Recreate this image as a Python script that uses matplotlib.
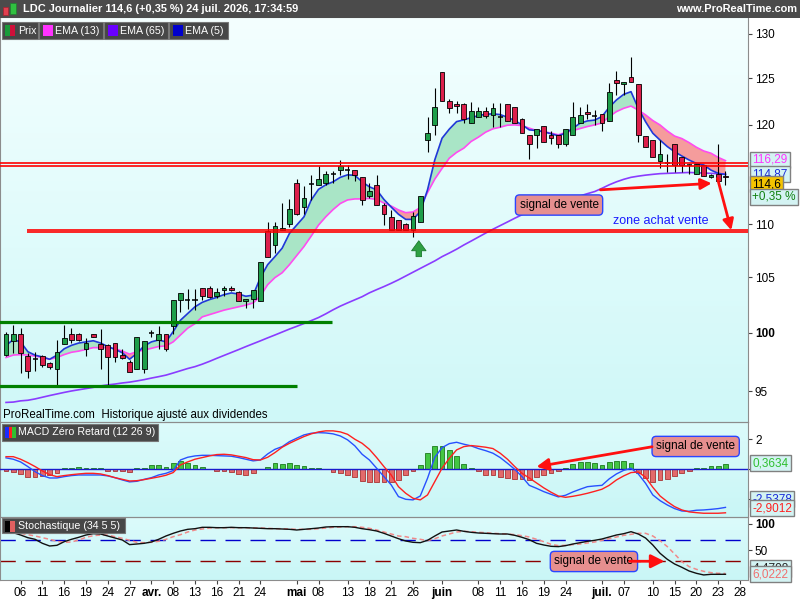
import numpy as np
import matplotlib
matplotlib.use('Agg')
import matplotlib.pyplot as plt
import matplotlib.transforms as mtransforms
from matplotlib.patches import Rectangle
from matplotlib.colors import LinearSegmentedColormap

plt.rcParams['font.family'] = ['Liberation Sans', 'DejaVu Sans']

# dati candele (indice = seduta)
opens = [98.1, 99.3, 99.9, 98.0, 97.7, 98.0, 97.4, 96.9, 99.0, 99.9,
         99.9, 98.6, 99.9, 99.0, 98.9, 99.1, 98.1, 97.5, 96.9, 96.9,
         99.9, 99.4, 99.9, 100.6, 102.9, 102.9, 102.9, 104.0, 104.0, 103.3,
         103.8, 104.0, 103.6, 102.8, 103.0, 102.8, 109.3, 108.0, 109.4, 110.0,
         114.0, 111.7, 113.85, 113.85, 114.0, 114.9, 115.3, 115.3, 115.3, 114.6,
         112.7, 113.85, 111.9, 110.7, 110.35, 110.0, 109.45, 110.2, 118.4, 120.0,
         125.7, 122.5, 122.2, 122.2, 120.2, 120.8, 121.5, 121.05, 120.8, 122.2,
         121.9, 120.6, 118.95, 118.95, 119.9, 118.95, 118.95, 118.0, 118.9, 120.2,
         121.35, 120.85, 121.1, 120.35, 124.8, 124.35, 125.1, 124.35, 118.85, 118.4,
         116.3, 116.05, 117.95, 116.7, 115.9, 114.95, 115.85, 114.6, 114.95, 114.75]
highs = [100.1, 100.7, 100.4, 98.2, 98.3, 98.1, 97.5, 99.4, 100.7, 100.4,
         100.0, 99.5, 99.9, 100.3, 99.0, 99.1, 98.6, 97.6, 99.6, 99.3,
         100.2, 100.6, 99.9, 102.9, 103.5, 103.9, 103.9, 104.0, 104.2, 104.0,
         104.2, 104.2, 103.7, 103.0, 103.8, 106.4, 110.2, 110.2, 112.0, 112.4,
         114.4, 113.7, 114.8, 115.7, 115.2, 115.2, 116.4, 115.85, 115.3, 114.6,
         114.0, 114.85, 112.0, 111.4, 110.4, 110.1, 111.2, 112.7, 120.8, 123.9,
         125.7, 122.7, 122.5, 122.3, 122.4, 121.9, 121.9, 122.3, 122.3, 122.2,
         121.9, 120.7, 118.95, 119.55, 119.9, 119.4, 118.95, 119.55, 122.4, 121.9,
         122.2, 121.6, 121.1, 124.45, 125.8, 124.55, 127.4, 124.35, 118.85, 118.4,
         118.4, 117.0, 117.95, 116.7, 115.9, 115.9, 115.85, 114.9, 117.95, 115.2]
lows = [98.0, 98.2, 96.5, 96.1, 96.7, 97.0, 96.9, 95.4, 99.0, 99.1,
        99.3, 98.0, 99.6, 96.9, 95.4, 97.5, 97.7, 96.6, 96.9, 96.5,
        99.6, 98.6, 98.4, 99.9, 101.8, 102.1, 102.0, 102.9, 103.1, 103.1,
        103.3, 103.7, 102.8, 102.2, 102.2, 102.8, 106.9, 107.2, 109.4, 109.75,
        110.9, 111.0, 112.35, 113.85, 113.85, 114.0, 114.85, 114.4, 114.2, 111.85,
        112.5, 111.9, 109.9, 109.45, 109.45, 109.45, 108.8, 110.2, 117.15, 118.95,
        122.5, 121.3, 121.3, 120.2, 120.2, 120.8, 120.7, 119.8, 119.8, 120.4,
        120.2, 119.1, 116.5, 117.6, 118.25, 118.0, 117.6, 117.8, 118.9, 120.2,
        120.6, 120.0, 119.3, 120.35, 123.2, 123.2, 124.55, 118.2, 117.7, 116.7,
        115.5, 115.1, 115.1, 115.1, 114.9, 114.95, 114.7, 114.55, 114.2, 113.85]
closes = [99.9, 99.9, 98.2, 96.7, 97.75, 97.2, 97.0, 98.3, 99.5, 99.4,
          99.4, 99.1, 99.6, 98.6, 97.9, 97.9, 97.8, 96.6, 99.6, 99.3,
          99.95, 99.9, 98.6, 102.9, 103.5, 102.95, 102.9, 103.3, 103.2, 103.6,
          104.0, 103.85, 102.8, 103.0, 103.8, 106.4, 106.9, 109.8, 109.6, 111.5,
          111.0, 112.5, 113.9, 114.4, 114.9, 114.95, 115.7, 115.35, 114.85, 112.35,
          113.2, 111.9, 110.95, 109.45, 109.45, 109.45, 110.75, 112.7, 119.1, 121.9,
          122.5, 121.75, 121.95, 120.6, 121.5, 121.5, 120.95, 121.75, 120.85, 120.4,
          120.2, 119.1, 118.0, 119.55, 118.25, 118.6, 118.0, 119.55, 120.8, 121.05,
          121.1, 120.9, 120.2, 123.55, 124.5, 124.55, 124.55, 118.95, 117.7, 116.7,
          116.95, 116.0, 115.85, 115.85, 115.8, 115.9, 114.7, 114.86, 114.2, 114.6]

# medie mobili
ema5 = [98.9, 99.4, 99.2, 98.35, 98.05, 97.9, 97.7, 98.05, 98.6, 98.9,
        99.1, 99.2, 99.3, 99.1, 98.8, 98.55, 98.26, 97.7, 98.2, 98.85,
        99.2, 99.37, 99.2, 100.1, 101.1, 101.7, 102.3, 102.7, 102.95, 103.15,
        103.4, 103.55, 103.45, 103.25, 103.35, 104.95, 106.15, 106.9, 107.7, 109.1,
        109.9, 110.7, 112.35, 113.4, 113.85, 114.15, 114.6, 114.85, 114.8, 114.15,
        113.65, 113.35, 112.4, 111.65, 110.95, 110.45, 110.45, 111.2, 113.35, 116.37,
        118.6, 119.55, 120.34, 120.52, 120.76, 120.97, 121.12, 121.16, 121.08, 120.8,
        120.45, 120.0, 119.47, 119.4, 119.27, 119.06, 118.85, 119.13, 119.65, 120.17,
        120.41, 120.5, 120.87, 121.86, 122.65, 123.25, 123.54, 121.75, 120.33, 119.12,
        118.4, 117.73, 117.2, 116.76, 116.35, 116.0, 115.85, 115.33, 115.0, 114.87]
ema13 = [97.85, 98.06, 98.1, 98.06, 97.97, 97.85, 97.7, 97.85, 98.1, 98.3,
         98.4, 98.55, 98.7, 98.7, 98.7, 98.6, 98.4, 98.14, 98.35, 98.5,
         98.64, 98.8, 98.85, 99.2, 99.8, 100.4, 100.8, 101.4, 101.6, 101.8,
         102.0, 102.15, 102.3, 102.45, 102.65, 103.25, 104.3, 104.95, 105.4, 106.15,
         107.0, 107.85, 108.85, 109.9, 110.7, 111.4, 112.0, 112.35, 112.45, 112.45,
         112.5, 112.4, 112.05, 111.75, 111.37, 111.1, 111.17, 111.6, 113.08, 114.42,
         115.5, 116.54, 117.13, 117.57, 118.26, 118.71, 119.23, 119.58, 119.75, 119.96,
         119.99, 119.92, 119.65, 119.4, 119.27, 119.13, 118.95, 119.2, 119.4, 119.61,
         119.82, 119.99, 120.2, 120.87, 121.4, 121.75, 121.99, 121.56, 121.05, 120.45,
         119.98, 119.35, 118.82, 118.56, 118.14, 117.66, 117.28, 117.05, 116.62, 116.29]
ema65 = [94.07, 94.1, 94.2, 94.25, 94.36, 94.5, 94.64, 94.77, 94.9, 95.02,
         95.12, 95.22, 95.32, 95.44, 95.53, 95.6, 95.69, 95.76, 95.86, 95.97,
         96.1, 96.22, 96.35, 96.53, 96.72, 96.91, 97.07, 97.28, 97.52, 97.78,
         98.03, 98.28, 98.53, 98.79, 99.04, 99.29, 99.55, 99.8, 100.06, 100.32,
         100.56, 100.81, 101.07, 101.34, 101.67, 102.03, 102.36, 102.65, 102.93, 103.21,
         103.56, 103.85, 104.13, 104.43, 104.75, 105.1, 105.45, 105.8, 106.15, 106.5,
         106.9, 107.24, 107.6, 108.0, 108.37, 108.75, 109.13, 109.5, 109.85, 110.2,
         110.56, 110.9, 111.24, 111.46, 111.66, 111.88, 112.1, 112.32, 112.53, 112.75,
         112.97, 113.18, 113.5, 113.85, 114.15, 114.4, 114.6, 114.72, 114.82, 114.9,
         114.97, 115.0, 115.03, 115.06, 115.09, 115.06, 115.03, 115.0, 114.97, 114.94]

# MACD zero retard
macd = [0.76, 0.67, 0.49, 0.18, -0.16, -0.42, -0.58, -0.58, -0.49, -0.42,
        -0.38, -0.38, -0.38, -0.38, -0.44, -0.56, -0.71, -0.84, -0.8, -0.67,
        -0.56, -0.38, -0.27, -0.09, 0.62, 0.8, 0.89, 0.93, 0.93, 0.91,
        0.89, 0.87, 0.78, 0.67, 0.56, 0.62, 1.02, 1.33, 1.51, 1.84,
        2.07, 2.29, 2.4, 2.44, 2.42, 2.36, 2.22, 1.96, 1.56, 1.0,
        0.62, 0.07, -0.49, -1.04, -1.82, -2.0, -2.04, -1.78, -0.6, 0.8,
        1.44, 1.71, 1.8, 1.67, 1.56, 1.38, 1.24, 1.07, 0.78, 0.4,
        0.0, -0.49, -1.07, -1.27, -1.49, -1.67, -1.84, -1.73, -1.51, -1.33,
        -1.16, -1.11, -1.07, -0.64, -0.31, -0.07, 0.07, -0.31, -0.93, -1.71,
        -2.09, -2.38, -2.62, -2.78, -2.8, -2.73, -2.71, -2.67, -2.62, -2.54]
segnale = [0.84, 0.84, 0.67, 0.44, 0.18, -0.11, -0.36, -0.49, -0.42, -0.36,
           -0.31, -0.27, -0.27, -0.31, -0.42, -0.56, -0.67, -0.78, -0.76, -0.69,
           -0.6, -0.51, -0.4, -0.22, 0.29, 0.49, 0.67, 0.78, 0.89, 0.98,
           1.0, 0.96, 0.87, 0.78, 0.64, 0.62, 0.8, 1.11, 1.47, 1.73,
           1.96, 2.18, 2.36, 2.49, 2.56, 2.56, 2.49, 2.33, 2.0, 1.73,
           1.33, 0.78, 0.18, -0.38, -1.16, -1.6, -1.93, -2.04, -1.71, -0.82,
           0.07, 0.73, 1.29, 1.51, 1.58, 1.53, 1.47, 1.38, 1.07, 0.67,
           0.18, -0.27, -0.58, -0.91, -1.24, -1.53, -1.78, -1.87, -1.8, -1.71,
           -1.6, -1.47, -1.33, -1.07, -0.71, -0.44, -0.22, -0.18, -0.53, -1.2,
           -1.78, -2.16, -2.49, -2.71, -2.84, -2.89, -2.93, -2.93, -2.93, -2.9]
istogramma = [-0.11, -0.16, -0.31, -0.53, -0.49, -0.42, -0.38, -0.22, 0.11, 0.11,
              0.18, 0.11, 0.11, 0.07, -0.09, -0.11, -0.11, -0.2, 0.07, 0.11,
              0.27, 0.27, 0.16, 0.4, 0.56, 0.4, 0.27, 0.16, 0.0, -0.11,
              -0.11, -0.18, -0.33, -0.4, -0.27, 0.0, 0.16, 0.4, 0.33, 0.4,
              0.27, 0.22, 0.11, 0.07, 0.0, -0.2, -0.27, -0.38, -0.53, -0.78,
              -0.82, -0.87, -0.87, -0.87, -0.71, -0.38, -0.11, 0.29, 1.07, 1.56,
              1.56, 1.29, 0.89, 0.33, 0.07, -0.11, -0.38, -0.38, -0.49, -0.6,
              -0.67, -0.67, -0.71, -0.49, -0.38, -0.22, -0.11, 0.07, 0.36, 0.47,
              0.47, 0.4, 0.29, 0.47, 0.58, 0.56, 0.4, -0.22, -0.6, -0.82,
              -0.71, -0.67, -0.44, -0.27, -0.11, 0.11, 0.11, 0.24, 0.24, 0.36]

# stocastico
stoch_k = [85.4, 83.5, 79.1, 74.0, 70.9, 63.3, 58.2, 59.5, 66.4, 70.9,
           74.7, 79.1, 81.6, 81.0, 77.2, 73.4, 69.6, 60.8, 62.0, 63.3,
           65.8, 70.9, 77.2, 82.3, 86.7, 89.9, 91.1, 93.7, 93.7, 93.0,
           93.0, 93.7, 93.0, 93.0, 92.4, 91.8, 91.1, 91.1, 90.5, 89.9,
           88.6, 89.9, 91.1, 92.4, 94.3, 94.9, 94.9, 94.9, 93.7, 91.1,
           89.2, 86.7, 82.3, 77.2, 72.1, 67.7, 65.2, 64.5, 69.0, 77.2,
           84.8, 86.7, 88.6, 86.1, 84.2, 82.9, 82.3, 81.6, 81.0, 81.0,
           78.5, 74.7, 70.2, 63.3, 60.1, 57.6, 57.0, 58.9, 62.0, 64.5,
           67.1, 69.0, 71.5, 75.3, 79.1, 81.6, 85.4, 81.0, 73.4, 60.1,
           44.3, 32.9, 24.0, 17.7, 10.7, 6.3, 3.2, 4.4, 4.4, 4.47]
stoch_d = [87.3, 85.4, 82.3, 79.7, 77.2, 74.0, 70.9, 67.1, 65.2, 65.8,
           69.6, 74.7, 77.8, 79.1, 79.1, 75.9, 72.8, 69.0, 65.2, 64.5,
           65.2, 67.1, 70.9, 75.9, 79.7, 84.8, 88.6, 90.5, 92.4, 93.0,
           93.0, 93.0, 93.0, 93.0, 92.4, 92.4, 91.8, 91.1, 91.1, 90.5,
           89.9, 89.9, 89.9, 91.1, 92.4, 93.7, 94.3, 94.9, 94.9, 93.7,
           91.8, 88.6, 84.8, 81.0, 77.2, 75.9, 72.8, 70.9, 68.3, 72.1,
           77.2, 81.0, 84.8, 86.1, 85.4, 84.2, 83.5, 82.3, 81.6, 81.0,
           79.7, 77.8, 75.3, 70.9, 66.4, 61.4, 58.9, 59.5, 60.8, 62.0,
           63.9, 65.8, 69.0, 72.1, 75.3, 78.5, 80.4, 82.3, 82.3, 77.2,
           68.3, 57.0, 43.0, 28.5, 19.0, 13.9, 10.1, 7.6, 6.3, 6.02]

# etichette asse x
tick_pos = [2, 5, 8, 11, 14, 17, 20, 23, 26, 29, 32, 35, 40, 43, 47, 50, 53, 56,
            60, 65, 68, 71, 74, 77, 82, 85, 89, 92, 95, 98, 101]
tick_lab = ['06', '11', '16', '19', '24', '27', 'avr.', '08', '13', '16', '21', '24',
            'mai', '08', '13', '18', '21', '26', 'juin', '08', '11', '16', '19', '24',
            'juil.', '07', '10', '15', '20', '23', '28']
mesi = ['avr.', 'mai', 'juin', 'juil.']

x = np.arange(len(closes))
e5 = np.array(ema5)
e13 = np.array(ema13)

verde = '#1e9e4a'
rosso = '#dc1f4b'
W, H = 800, 600
fs_leg = 7.7


def fig_rect(px, py, w, h, **kw):
    # rettangolo in coordinate pixel della figura
    fig.patches.append(Rectangle((px / W, 1 - (py + h) / H), w / W, h / H,
                                 transform=fig.transFigure, **kw))


def sfondo(rect, c1, c2):
    b = fig.add_axes(rect, zorder=0)
    grad = np.linspace(0, 1, 256).reshape(-1, 1)
    b.imshow(grad, aspect='auto', cmap=LinearSegmentedColormap.from_list('g', [c1, c2]),
             extent=[0, 1, 0, 1])
    b.axis('off')


def etichetta(ax, y, txt, fc, tc):
    tr = mtransforms.blended_transform_factory(ax.transAxes, ax.transData)
    ax.text(1.006, y, txt, transform=tr, fontsize=8.5, color=tc, va='center', ha='left',
            bbox=dict(boxstyle='square,pad=0.18', fc=fc, ec='#808080', lw=1),
            clip_on=False, zorder=10)


def box_segnale(ax, xx, yy):
    ax.text(xx, yy, 'signal de vente', fontsize=8.5, color='black', ha='center', va='center',
            bbox=dict(boxstyle='round,pad=0.35', fc='#e68f8f', ec='#2a45ff', lw=1), zorder=9)


def freccia(ax, da, a, ms=16):
    ax.annotate('', xy=a, xytext=da, zorder=9,
                arrowprops=dict(arrowstyle='-|>', color='#ff1010', lw=2, mutation_scale=ms,
                                shrinkA=0, shrinkB=0))


fig = plt.figure(figsize=(8, 6), dpi=100)
fig.patch.set_facecolor('white')

r_main = [0, 1 - 422 / H, 748 / W, 405 / H]
r_macd = [0, 1 - 517 / H, 748 / W, 95 / H]
r_sto = [0, 1 - 580 / H, 748 / W, 63 / H]
sfondo(r_main, '#f4ffff', '#cff8f8')
sfondo(r_macd, '#dcfbfb', '#c9f6f6')
sfondo(r_sto, '#dcfbfb', '#c9f6f6')

ax = fig.add_axes(r_main, zorder=1)
ax_m = fig.add_axes(r_macd, zorder=1, sharex=ax)
ax_s = fig.add_axes(r_sto, zorder=1, sharex=ax)
for a in (ax, ax_m, ax_s):
    a.set_facecolor('none')
    for s in a.spines.values():
        s.set_color('#8c8c8c')
    a.yaxis.tick_right()
    a.tick_params(axis='y', labelsize=8.5, colors='#444444', length=3, pad=2)
    a.tick_params(axis='y', labelcolor='black')

# grafico prezzi
ax.set_yscale('log')
ax.fill_between(x, e5, e13, where=e5 >= e13, interpolate=True, color='#a9e5c6', lw=0, zorder=1)
ax.fill_between(x, e5, e13, where=e5 < e13, interpolate=True, color='#f59c9c', lw=0, zorder=1)
ax.plot(x, ema65, color='#8a3cff', lw=1.2, zorder=2)
ax.plot(x, ema13, color='#ff4cf0', lw=1.2, zorder=2)
ax.plot(x, ema5, color='#2038d8', lw=1.2, zorder=2)

for i in x:
    o, h, l, c = opens[i], highs[i], lows[i], closes[i]
    ax.vlines(i, l, h, color='black', lw=0.8, zorder=3)
    if abs(c - o) < 0.12:
        ax.hlines(c, i - 0.35, i + 0.35, color='black', lw=1.1, zorder=4)
    else:
        col = verde if c > o else rosso
        ax.bar(i, abs(c - o), bottom=min(o, c), width=0.66, color=col,
               edgecolor='black', lw=0.6, zorder=4)

# linee orizzontali
ax.axhline(116.08, color='red', lw=1.2, zorder=5)
ax.axhline(115.75, color='red', lw=1.2, zorder=5)
ax.hlines([109.43, 109.24], 2.9, 103, color='red', lw=1.2, zorder=5)
ax.hlines(100.94, -1, 44.8, color='#008000', lw=2.3, zorder=5)
ax.hlines(95.43, -1, 40.0, color='#008000', lw=2.3, zorder=5)

# annotazioni
box_segnale(ax, 76.1, 111.85)
freccia(ax, (81.8, 113.35), (97.1, 114.0))
freccia(ax, (97.9, 114.5), (99.8, 109.4))
ax.text(83.5, 110.3, 'zone achat vente', color='#1a1aff', fontsize=9, va='center', ha='left')
ax.annotate('', xy=(56.8, 108.4), xytext=(56.8, 106.9), zorder=9,
            arrowprops=dict(arrowstyle='simple,head_width=1.3,head_length=0.9,tail_width=0.5',
                            fc='#2ea043', ec='#1b7a2e', lw=0.6, mutation_scale=8,
                            shrinkA=0, shrinkB=0))
ax.text(0.004, 0.018, 'ProRealTime.com  Historique ajusté aux dividendes', transform=ax.transAxes,
        fontsize=8.3, va='center', ha='left')

ax.set_xlim(-0.83, 102.1)
ax.set_ylim(92.47, 131.9)
ax.set_yticks([95, 100, 105, 110, 120, 125, 130])
ax.set_yticklabels(['95', '100', '105', '110', '120', '125', '130'])
ax.minorticks_off()
ax.yaxis.set_minor_locator(matplotlib.ticker.NullLocator())
for t in ax.get_yticklabels():
    if t.get_text() == '100':
        t.set_fontweight('bold')
ax.tick_params(axis='x', bottom=False, labelbottom=False)

etichetta(ax, 116.36, '116,29', '#d4f3f3', '#ff33ff')
etichetta(ax, 114.92, '114,87', '#d4f3f3', '#1a2ad8')
etichetta(ax, 113.9, '114,6', '#f5c400', 'black')
etichetta(ax, 112.65, '+0,35 %', '#d4f3f3', '#108010')

# MACD
col_h = ['#43c643' if v >= 0 else '#e36a6a' for v in istogramma]
bord_h = ['#1d7a1d' if v >= 0 else '#a83434' for v in istogramma]
ax_m.bar(x, istogramma, width=0.66, color=col_h, edgecolor=bord_h, lw=0.6, zorder=2)
ax_m.axhline(0, color='#1a1acc', lw=1.0, zorder=3)
ax_m.plot(x, macd, color='#2850ff', lw=1.0, zorder=4)
ax_m.plot(x, segnale, color='#ff2020', lw=1.0, zorder=4)
ax_m.set_ylim(-3.18, 3.15)
# le etichette 0 e -2 restano coperte dai riquadri dei valori
ax_m.set_yticks([-2, 0, 2])
ax_m.set_yticklabels(['', '', '2'])
ax_m.tick_params(axis='x', bottom=False, labelbottom=False)
box_segnale(ax_m, 94.9, 1.52)
freccia(ax_m, (88.9, 1.5), (73.0, 0.17), ms=18)
etichetta(ax_m, 0.4, '0,3634', '#d4f3f3', '#30c030')
etichetta(ax_m, -2.0, '-2,5378', '#d4f3f3', '#1a2ad8')
etichetta(ax_m, -2.6, '-2,9012', '#d4f3f3', '#ff2020')

# stocastico
ax_s.axhline(70, color='#0000cc', lw=1.0, ls=(0, (11, 7)), zorder=2)
ax_s.axhline(30, color='#8b0000', lw=1.0, ls=(0, (11, 7)), zorder=2)
ax_s.plot(x, stoch_d, color='#f08a8a', lw=1.1, ls=(0, (3, 2)), zorder=3)
ax_s.plot(x, stoch_k, color='#111111', lw=1.0, zorder=4)
ax_s.set_ylim(-6.4, 113.3)
ax_s.set_yticks([50, 100])
ax_s.set_yticklabels(['50', '100'])
ax_s.get_yticklabels()[1].set_fontweight('bold')
box_segnale(ax_s, 80.9, 28.8)
freccia(ax_s, (85.8, 29.2), (90.6, 29.2), ms=20)
etichetta(ax_s, 15.5, '4,4708', '#d4f3f3', '#222222')
etichetta(ax_s, 4.5, '6,0222', '#d4f3f3', '#f07070')

ax_s.set_xticks(tick_pos)
ax_s.set_xticklabels(tick_lab)
ax_s.tick_params(axis='x', labelsize=8.5, length=3, colors='#444444', labelcolor='black', pad=2)
for t in ax_s.get_xticklabels():
    if t.get_text() in mesi:
        t.set_fontweight('bold')

# barra titolo
fig_rect(0, 0, 800, 18, fc='#4b4b4b', ec='none')
fig_rect(3, 7, 5, 8, fc='#e04050', ec='#aa2030', lw=0.5)
fig_rect(10, 3, 6, 11, fc='#30c040', ec='#208030', lw=0.5)
fig.text(23 / W, 1 - 9.5 / H, 'LDC Journalier 114,6 (+0,35 %) 24 juil. 2026, 17:34:59',
         color='white', fontsize=7.9, fontweight='bold', va='center', ha='left')
fig.text(797 / W, 1 - 9.5 / H, 'www.ProRealTime.com', color='white', fontsize=7.9,
         fontweight='bold', va='center', ha='right')

# legende
voci = [(1.7, 38.3, ['#1a9a3a', '#d0103a'], 'Prix'),
        (39.3, 103.3, ['#ff33ff'], 'EMA (13)'),
        (104.3, 168.3, ['#6a00ff'], 'EMA (65)'),
        (169.3, 228.3, ['#0000cc'], 'EMA (5)')]
for x1, x2, colori, testo in voci:
    fig_rect(x1, 21.7, x2 - x1, 17, fc='#474747', ec='#777777', lw=0.8)
    if len(colori) == 2:
        fig_rect(x1 + 3, 24.5, 5, 11.5, fc=colori[0], ec='none')
        fig_rect(x1 + 8, 24.5, 5, 11.5, fc=colori[1], ec='none')
    else:
        fig_rect(x1 + 4, 24.5, 10, 11.5, fc=colori[0], ec='none')
    fig.text((x1 + 16) / W, 1 - 30.5 / H, testo, color='white', fontsize=fs_leg,
             va='center', ha='left')

fig_rect(1.7, 424, 156.5, 16.5, fc='#474747', ec='#777777', lw=0.8)
fig_rect(5, 426.5, 3.5, 11.5, fc='#1a2aff', ec='none')
fig_rect(8.5, 426.5, 3.5, 11.5, fc='#ff2020', ec='none')
fig_rect(12, 426.5, 3.5, 11.5, fc='#30c030', ec='none')
fig.text(17.5 / W, 1 - 432.3 / H, 'MACD Zéro Retard (12 26 9)', color='white', fontsize=fs_leg,
         va='center', ha='left')

fig_rect(1.7, 518.3, 123.3, 15, fc='#474747', ec='#777777', lw=0.8)
fig_rect(5, 520.5, 5, 11, fc='#000000', ec='none')
fig_rect(10, 520.5, 5, 11, fc='#e06060', ec='none')
fig.text(17.5 / W, 1 - 526 / H, 'Stochastique (34 5 5)', color='white', fontsize=fs_leg,
         va='center', ha='left')

plt.savefig('out.png', dpi=100)
